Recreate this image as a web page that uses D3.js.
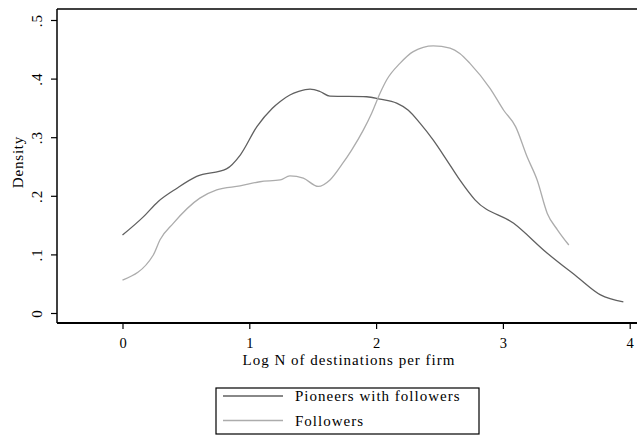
<!DOCTYPE html>
<html><head><meta charset="utf-8">
<script src="https://cdn.jsdelivr.net/npm/d3@7"></script>
<style>
body{margin:0;background:#fff;}
svg{display:block;}
text{font-family:"Liberation Serif","Times New Roman",serif;fill:#000;}
</style></head>
<body><svg id="c" width="637" height="435"></svg>
<script>
const pioneersX = [0, 0.164, 0.28, 0.43, 0.585, 0.82, 0.93, 1.06, 1.18, 1.244, 1.32, 1.39, 1.479, 1.557, 1.636, 1.926, 2.03, 2.162, 2.254, 2.346, 2.451, 2.557, 2.66, 2.78, 3.085, 3.35, 3.584, 3.77, 3.95];
const pioneersY = [0.133, 0.164, 0.19, 0.213, 0.233, 0.246, 0.27, 0.318, 0.349, 0.361, 0.372, 0.378, 0.382, 0.378, 0.370, 0.369, 0.365, 0.358, 0.346, 0.324, 0.295, 0.261, 0.227, 0.193, 0.153, 0.102, 0.062, 0.031, 0.019];
const followersX = [0, 0.243, 0.296, 0.40, 0.61, 0.743, 0.927, 1.084, 1.244, 1.32, 1.426, 1.544, 1.636, 1.729, 1.807, 1.899, 1.965, 2.031, 2.084, 2.188, 2.293, 2.451, 2.583, 2.66, 2.74, 2.90, 3.006, 3.10, 3.19, 3.27, 3.35, 3.43, 3.52];
const followersY = [0.056, 0.099, 0.125, 0.153, 0.196, 0.21, 0.217, 0.224, 0.227, 0.234, 0.230, 0.216, 0.227, 0.253, 0.278, 0.312, 0.341, 0.375, 0.398, 0.426, 0.446, 0.456, 0.452, 0.443, 0.426, 0.383, 0.346, 0.318, 0.267, 0.227, 0.170, 0.142, 0.116];
const xTicks = [0, 1, 2, 3, 4];
const yTicks = [0, 0.1, 0.2, 0.3, 0.4, 0.5];
const yTickLabels = ["0", ".1", ".2", ".3", ".4", ".5"];
const seriesNames = ["Pioneers with followers", "Followers"];
const xTitle = "Log N of destinations per firm";
const yTitle = "Density";

const svg = d3.select("#c");
const x = d3.scaleLinear().domain([0, 4]).range([122.5, 629.7]);
const y = d3.scaleLinear().domain([0, 0.5]).range([313, 20]);
const pL = 57, pT = 9, pB = 323, pR = 637;

// frame
svg.append("line").attr("x1", pL).attr("x2", pR).attr("y1", pT).attr("y2", pT)
  .attr("stroke", "#000").attr("stroke-width", 1.5);
svg.append("line").attr("x1", pL).attr("x2", pL).attr("y1", pT).attr("y2", pB)
  .attr("stroke", "#000").attr("stroke-width", 1.5);
svg.append("line").attr("x1", pL).attr("x2", pR).attr("y1", pB).attr("y2", pB)
  .attr("stroke", "#000").attr("stroke-width", 2);

// x axis
const xa = svg.append("g").attr("transform", `translate(0,${pB})`)
  .call(d3.axisBottom(x).tickValues(xTicks).tickSize(6).tickFormat(d3.format("d")));
xa.select(".domain").remove();
xa.selectAll("line").attr("stroke", "#000").attr("stroke-width", 1.2);
xa.selectAll("text").attr("font-size", 14.5).attr("font-family", "Liberation Serif")
  .attr("y", 24.5).attr("dy", 0);

// y axis
const ya = svg.append("g").attr("transform", `translate(${pL},0)`)
  .call(d3.axisLeft(y).tickValues(yTicks).tickSize(6).tickFormat((d, i) => yTickLabels[i]));
ya.select(".domain").remove();
ya.selectAll("line").attr("stroke", "#000").attr("stroke-width", 1.2);
ya.selectAll("text").remove();
ya.selectAll(".tick").append("text")
  .attr("transform", "translate(-20,0) rotate(-90)")
  .attr("text-anchor", "middle").attr("dy", "0.35em")
  .attr("font-size", 15).attr("font-family", "Liberation Serif").attr("letter-spacing", 1)
  .text((d, i) => yTickLabels[i]);

// titles
svg.append("text").attr("x", 349).attr("y", 364.5).attr("text-anchor", "middle")
  .attr("font-size", 15).attr("letter-spacing", 1).text(xTitle);
svg.append("text").attr("transform", "translate(23,162) rotate(-90)").attr("text-anchor", "middle")
  .attr("font-size", 15).attr("letter-spacing", 0.8).text(yTitle);

// lines
const colors = ["#606060", "#acacac"];
const line = d3.line().x(d => x(d[0])).y(d => y(d[1])).curve(d3.curveMonotoneX);
const series = [d3.zip(pioneersX, pioneersY), d3.zip(followersX, followersY)];
series.forEach((s, i) => {
  svg.append("path").datum(s).attr("d", line).attr("fill", "none")
    .attr("stroke", colors[i]).attr("stroke-width", 1.3);
});

// legend
svg.append("rect").attr("x", 216).attr("y", 388).attr("width", 263).attr("height", 46)
  .attr("fill", "#fff").attr("stroke", "#000").attr("stroke-width", 1.2);
seriesNames.forEach((n, i) => {
  const ly = 396 + i * 24.5;
  svg.append("line").attr("x1", 223).attr("x2", 283).attr("y1", ly).attr("y2", ly)
    .attr("stroke", colors[i]).attr("stroke-width", 1.3);
  svg.append("text").attr("x", 295).attr("y", ly).attr("dy", "0.35em")
    .attr("font-size", 15).attr("letter-spacing", 1).text(n);
});
</script></body></html>
